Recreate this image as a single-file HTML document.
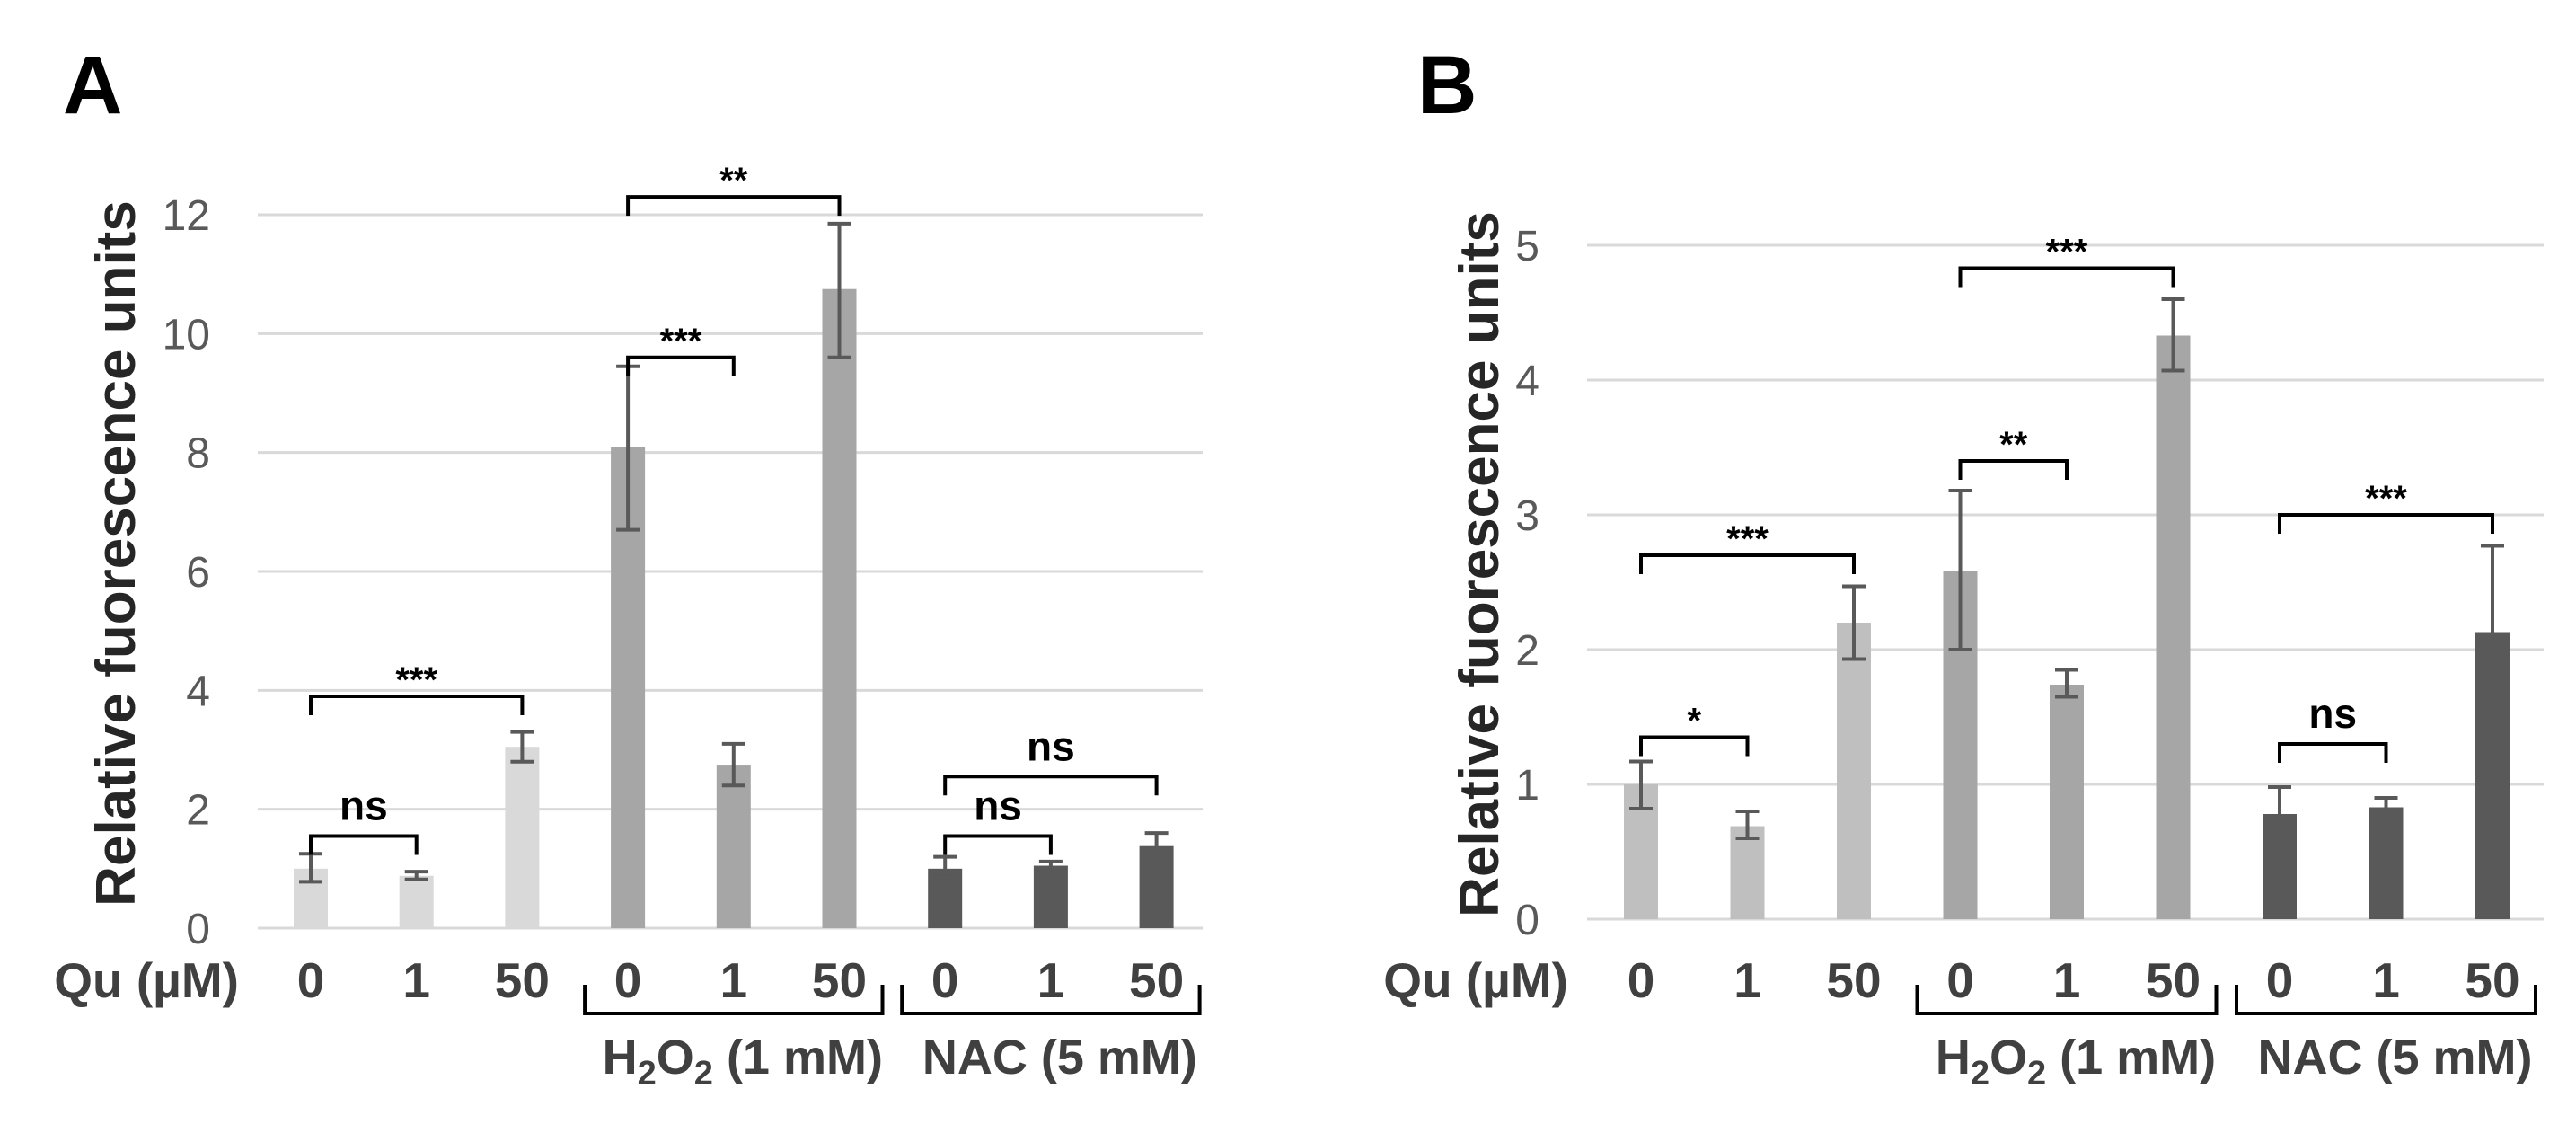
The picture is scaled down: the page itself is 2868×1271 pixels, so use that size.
<!DOCTYPE html>
<html><head><meta charset="utf-8"><style>
html,body{margin:0;padding:0;background:#fff}
svg{display:block;font-family:"Liberation Sans",Arial,sans-serif}
</style></head><body>
<svg id="fig" width="2868" height="1271" viewBox="0 0 2868 1271" xmlns="http://www.w3.org/2000/svg"></svg>
<script>
const categories = ["0","1","50","0","1","50","0","1","50"];
const valuesA = [1.0, 0.88, 3.05, 8.1, 2.75, 10.75, 1.0, 1.05, 1.38];
const errLowA = [0.78, 0.82, 2.8, 6.7, 2.4, 9.6, 0.85, 0.95, 1.15];
const errHighA = [1.25, 0.95, 3.3, 9.45, 3.1, 11.85, 1.2, 1.12, 1.6];
const ticksA = [0, 2, 4, 6, 8, 10, 12];
const valuesB = [1.0, 0.69, 2.2, 2.58, 1.74, 4.33, 0.78, 0.83, 2.13];
const errLowB = [0.82, 0.6, 1.93, 2.0, 1.65, 4.07, 0.6, 0.79, 1.5];
const errHighB = [1.17, 0.8, 2.47, 3.18, 1.85, 4.6, 0.98, 0.9, 2.77];
const ticksB = [0, 1, 2, 3, 4, 5];
const sigA = [[0,1,"ns",1.55],[0,2,"***",3.9],[3,4,"***",9.6],[3,5,"**",12.3],[6,8,"ns",2.55],[6,7,"ns",1.55]];
const sigB = [[0,1,"*",1.35],[0,2,"***",2.7],[3,4,"**",3.4],[3,5,"***",4.83],[6,8,"***",3.0],[6,7,"ns",1.3]];

const NS="http://www.w3.org/2000/svg";
const svg=document.getElementById('fig');
function mk(tag,attrs,parent){const e=document.createElementNS(NS,tag);for(const k in attrs)e.setAttribute(k,attrs[k]);(parent||svg).appendChild(e);return e;}

function panel(cfg){
  const g=mk('g',{});
  
  
  const y=v=>cfg.y0-(v-cfg.ymin)*(cfg.y0-cfg.yTop)/(cfg.ymax-cfg.ymin);
  const x=i=>cfg.x0+i*cfg.step;
  cfg.ticks.forEach(t=>{
    const l=mk('line',{x1:cfg.left,x2:cfg.right,y1:y(t),y2:y(t),stroke:'#d9d9d9','stroke-width':3},g);
    
    
    const tx=mk('text',{x:cfg.tickX,y:y(t)+17,'text-anchor':'end','font-size':48,fill:'#595959'},g);
    tx.textContent=t;
    
    
  });
  cfg.values.forEach((v,i)=>{
    const col=i<3?cfg.c1:(i<6?'#a6a6a6':'#595959');
    const r=mk('rect',{x:x(i)-19,y:y(v),width:38,height:y(0)-y(v),fill:col},g);
    
    
    const eg=mk('g',{stroke:'#595959','stroke-width':4},g);
    
    
    mk('line',{x1:x(i),x2:x(i),y1:y(cfg.lo[i]),y2:y(cfg.hi[i])},eg);
    mk('line',{x1:x(i)-13,x2:x(i)+13,y1:y(cfg.lo[i]),y2:y(cfg.lo[i])},eg);
    mk('line',{x1:x(i)-13,x2:x(i)+13,y1:y(cfg.hi[i]),y2:y(cfg.hi[i])},eg);
    const tl=mk('text',{x:x(i),y:1110,'text-anchor':'middle','font-size':55,'font-weight':'bold',fill:'#404040'},g);
    tl.textContent=categories[i];
    
    
  });
  cfg.sig.forEach(s=>{
    const top=y(s[3]);
    const p=mk('path',{d:`M${x(s[0])},${top+21} V${top} H${x(s[1])} V${top+21}`,fill:'none',stroke:'#000','stroke-width':4},g);
    
    
    const isNs=s[2]==='ns';
    const t=mk('text',{x:(x(s[0])+x(s[1]))/2,y:isNs?top-18:top-5,'text-anchor':'middle','font-size':isNs?46:40,'font-weight':'bold',fill:'#000'},g);
    t.textContent=s[2];
    
    
  });
  const yt=mk('text',{x:cfg.titleX,y:(cfg.y0+cfg.yTop)/2-20,'text-anchor':'middle','font-size':62,'font-weight':'bold',fill:'#262626',transform:`rotate(-90 ${cfg.titleX} ${(cfg.y0+cfg.yTop)/2-20})`},g);
  yt.textContent='Relative fuorescence units';
  
  
  const q=mk('text',{x:cfg.quX,y:1110,'text-anchor':'end','font-size':55,'font-weight':'bold',fill:'#404040'},g);
  q.textContent='Qu (µM)';
  
  
  [[3,5,'h2o2','h2o2-group-label'],[6,8,'NAC (5 mM)','nac-group-label']].forEach(b=>{
    const a=x(b[0])-48,c=x(b[1])+48;
    const p=mk('path',{d:`M${a},1096 V1128 H${c} V1096`,fill:'none',stroke:'#000','stroke-width':4},g);
    
    
    const t=mk('text',{x:(a+c)/2+10,y:1195,'text-anchor':'middle','font-size':54,'font-weight':'bold',fill:'#404040'},g);
    if(b[2]==='h2o2'){
      t.appendChild(document.createTextNode('H'));
      const s1=mk('tspan',{'font-size':38,dy:12},t);s1.textContent='2';
      const s2=mk('tspan',{dy:-12},t);s2.textContent='O';
      const s3=mk('tspan',{'font-size':38,dy:12},t);s3.textContent='2';
      const s4=mk('tspan',{dy:-12},t);s4.textContent=' (1 mM)';
    } else t.textContent=b[2];
    
    
  });
  const L=mk('text',{x:cfg.labX,y:126,'font-size':92,'font-weight':'bold',fill:'#000'},g);
  L.textContent=cfg.label;
  
  
}
panel({name:'panel-a',label:'A',labX:70,values:valuesA,lo:errLowA,hi:errHighA,ticks:ticksA,sig:sigA,ymin:0,ymax:12,y0:1033,yTop:239,left:287,right:1339,x0:346,step:117.7,c1:'#d9d9d9',tickX:234,titleX:150,quX:266});
panel({name:'panel-b',label:'B',labX:1578,values:valuesB,lo:errLowB,hi:errHighB,ticks:ticksB,sig:sigB,ymin:0,ymax:5,y0:1023,yTop:273,left:1767,right:2832,x0:1827,step:118.5,c1:'#bfbfbf',tickX:1714,titleX:1668,quX:1746});
</script>
</body></html>
